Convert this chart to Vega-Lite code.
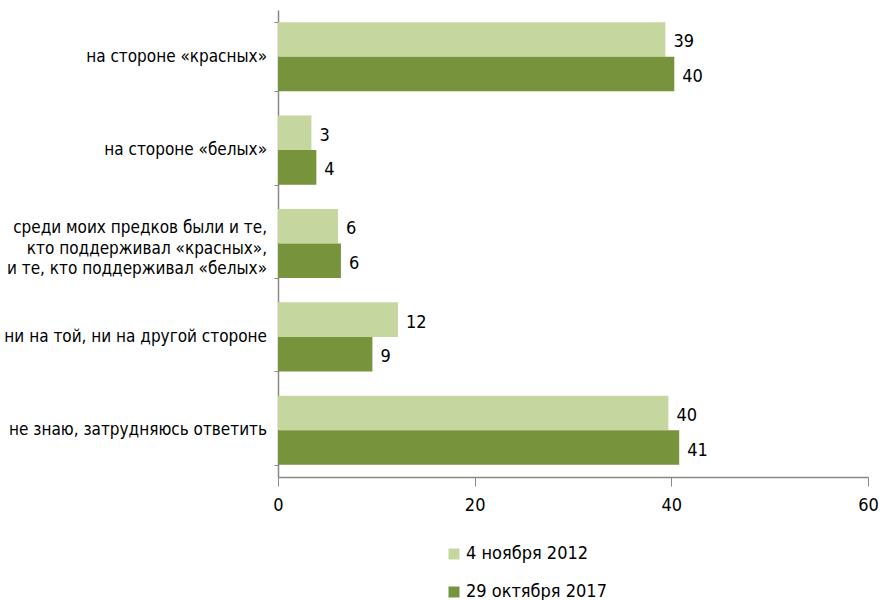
{
  "$schema": "https://vega.github.io/schema/vega-lite/v6.json",
  "width": 590,
  "height": 467,
  "autosize": {"type": "none"},
  "padding": {"left": 278, "top": 10, "right": 12, "bottom": 123},
  "background": "white",
  "config": {
    "view": {"stroke": null},
    "font": "Liberation Sans Narrow, DejaVu Sans Condensed, sans-serif"
  },
  "data": {
    "values": [
      {"cat": "на стороне «красных»", "series": "4 ноября 2012", "value": 39.4, "label": "39"},
      {"cat": "на стороне «красных»", "series": "29 октября 2017", "value": 40.3, "label": "40"},
      {"cat": "на стороне «белых»", "series": "4 ноября 2012", "value": 3.4, "label": "3"},
      {"cat": "на стороне «белых»", "series": "29 октября 2017", "value": 3.9, "label": "4"},
      {"cat": "среди моих предков были и те,|кто поддерживал «красных»,|и те, кто поддерживал «белых»", "series": "4 ноября 2012", "value": 6.1, "label": "6"},
      {"cat": "среди моих предков были и те,|кто поддерживал «красных»,|и те, кто поддерживал «белых»", "series": "29 октября 2017", "value": 6.4, "label": "6"},
      {"cat": "ни на той, ни на другой стороне", "series": "4 ноября 2012", "value": 12.2, "label": "12"},
      {"cat": "ни на той, ни на другой стороне", "series": "29 октября 2017", "value": 9.6, "label": "9"},
      {"cat": "не знаю, затрудняюсь ответить", "series": "4 ноября 2012", "value": 39.7, "label": "40"},
      {"cat": "не знаю, затрудняюсь ответить", "series": "29 октября 2017", "value": 40.8, "label": "41"}
    ]
  },
  "encoding": {
    "y": {
      "field": "cat",
      "type": "nominal",
      "sort": null,
      "title": null,
      "scale": {"paddingInner": 0.26, "paddingOuter": 0.13},
      "axis": {
        "labels": false,
        "tickBand": "extent",
        "tickSize": 4,
        "tickColor": "#888888",
        "domainColor": "#888888",
        "domainWidth": 1.5
      }
    },
    "x": {
      "field": "value",
      "type": "quantitative",
      "title": null,
      "scale": {"domain": [0, 60], "nice": false},
      "axis": {
        "values": [0, 20, 40, 60],
        "grid": false,
        "labelFlush": false,
        "labelFontSize": 18,
        "labelColor": "#000000",
        "labelPadding": 10,
        "tickSize": 9,
        "tickColor": "#888888",
        "domainColor": "#888888",
        "domainWidth": 1.5
      }
    }
  },
  "layer": [
    {
      "mark": {"type": "bar"},
      "encoding": {
        "yOffset": {"field": "series", "type": "nominal", "sort": ["4 ноября 2012", "29 октября 2017"], "scale": {"paddingInner": 0, "paddingOuter": 0}},
        "color": {
          "field": "series",
          "type": "nominal",
          "sort": ["4 ноября 2012", "29 октября 2017"],
          "scale": {"domain": ["4 ноября 2012", "29 октября 2017"], "range": ["#c5d79e", "#77933c"]},
          "legend": {
            "title": null,
            "orient": "none",
            "legendX": 167,
            "legendY": 535,
            "direction": "vertical",
            "symbolType": "square",
            "symbolSize": 121,
            "symbolStrokeWidth": 0,
            "labelFontSize": 18,
            "labelColor": "#000000",
            "labelOffset": 3,
            "rowPadding": 20
          }
        }
      }
    },
    {
      "mark": {"type": "text", "align": "left", "dx": 8, "dy": 3, "fontSize": 18, "color": "#000000"},
      "encoding": {
        "yOffset": {"field": "series", "type": "nominal", "sort": ["4 ноября 2012", "29 октября 2017"], "scale": {"paddingInner": 0, "paddingOuter": 0}},
        "text": {"field": "label"}
      }
    },
    {
      "transform": [{"filter": "datum.series == '4 ноября 2012'"}],
      "mark": {
        "type": "text",
        "align": "right",
        "baseline": "middle",
        "lineBreak": "|",
        "lineHeight": 20.5,
        "dx": -11,
        "dy": {"expr": "indexof(datum.cat, '|') >= 0 ? -15.5 : 0"},
        "fontSize": 17,
        "color": "#000000"
      },
      "encoding": {
        "x": {"datum": 0},
        "text": {"field": "cat"}
      }
    }
  ]
}
